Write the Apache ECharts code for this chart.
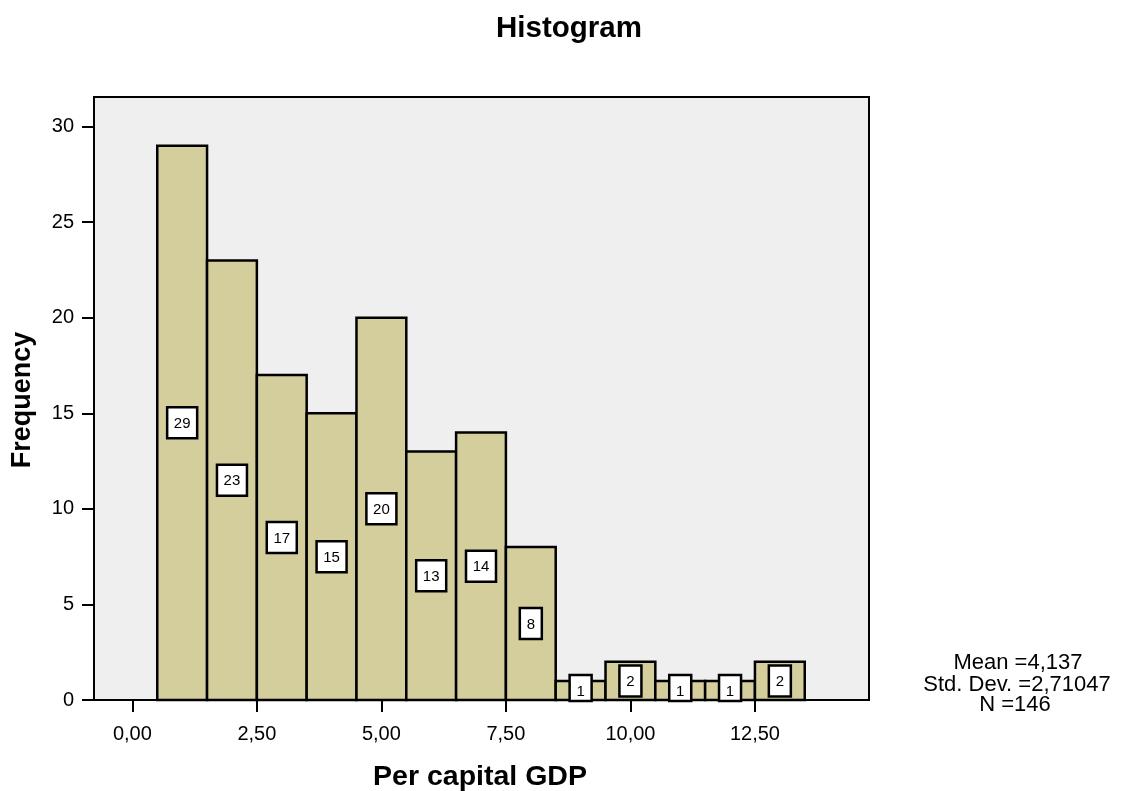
<!DOCTYPE html>
<html>
<head>
<meta charset="utf-8">
<script src="https://cdn.jsdelivr.net/npm/echarts@6/dist/echarts.min.js"></script>
<style>
html,body{margin:0;padding:0;background:#fff;}
#chart{width:1121px;height:791px;}
</style>
</head>
<body>
<div id="chart"></div>
<script>
// ---- data ----
const binCenters = [1, 2, 3, 4, 5, 6, 7, 8, 9, 10, 11, 12, 13];
const counts = [29, 23, 17, 15, 20, 13, 14, 8, 1, 2, 1, 1, 2];
const binWidth = 1;
const xTickValues = [0, 2.5, 5, 7.5, 10, 12.5];
const xTickLabels = ['0,00', '2,50', '5,00', '7,50', '10,00', '12,50'];
const yTickValues = [0, 5, 10, 15, 20, 25, 30];
const statsLines = ['Mean =4,137', 'Std. Dev. =2,71047', 'N =146'];
const titleText = 'Histogram';
const xTitle = 'Per capital GDP';
const yTitle = 'Frequency';

const FONT = "'Liberation Sans', Arial, sans-serif";
const chart = echarts.init(document.getElementById('chart'), null, {renderer: 'canvas'});

const seriesData = binCenters.map((c, i) => [c, counts[i]]);

function renderItem(params, api) {
  const x = api.value(0), v = api.value(1);
  const p0 = api.coord([x - binWidth / 2, 0]);
  const p1 = api.coord([x + binWidth / 2, v]);
  const c = api.coord([x, v / 2]);
  const label = String(v);
  const bw = label.length > 1 ? 30 : 22;
  const bh = 31;
  const top = c[1] - bh / 2;
  const bottom = Math.min(c[1] + bh / 2, p0[1] + 1);
  return {
    type: 'group',
    children: [
      {
        type: 'rect',
        shape: {x: p0[0], y: p1[1], width: p1[0] - p0[0], height: p0[1] - p1[1]},
        style: {fill: '#D3CE9B', stroke: '#000', lineWidth: 2.5}
      },
      {
        type: 'rect',
        shape: {x: c[0] - bw / 2, y: top, width: bw, height: bottom - top},
        style: {fill: '#fff', stroke: '#000', lineWidth: 2.5}
      },
      {
        type: 'text',
        x: c[0], y: c[1] + 1,
        style: {text: label, fill: '#000', font: '15px ' + FONT, align: 'center', verticalAlign: 'middle'}
      }
    ]
  };
}

const option = {
  animation: false,
  backgroundColor: '#fff',
  grid: {
    left: 94, top: 97, width: 775, height: 603,
    show: true, backgroundColor: '#EFEFEF', borderColor: '#000', borderWidth: 2
  },
  xAxis: {
    type: 'value', min: -0.77, max: 14.79,
    axisLine: {show: true, onZero: false, lineStyle: {color: '#000', width: 2}},
    axisTick: {show: true, length: 12, customValues: xTickValues, lineStyle: {color: '#000', width: 2}},
    axisLabel: {
      customValues: xTickValues, margin: 24, color: '#000', fontSize: 20, fontFamily: FONT,
      formatter: function (val) {
        const i = xTickValues.indexOf(val);
        return i >= 0 ? xTickLabels[i] : '';
      }
    },
    splitLine: {show: false}
  },
  yAxis: {
    type: 'value', min: 0, max: 31.55,
    axisLine: {show: true, onZero: false, lineStyle: {color: '#000', width: 2}},
    axisTick: {show: true, length: 12, customValues: yTickValues, lineStyle: {color: '#000', width: 2}},
    axisLabel: {customValues: yTickValues, margin: 20, color: '#000', fontSize: 20, fontFamily: FONT},
    splitLine: {show: false}
  },
  series: [{
    type: 'custom',
    renderItem: renderItem,
    data: seriesData,
    encode: {x: 0, y: 1}
  }],
  graphic: [
    {type: 'text', x: 569, y: 29, style: {text: titleText, font: 'bold 29.5px ' + FONT, fill: '#000', align: 'center', verticalAlign: 'middle'}},
    {type: 'text', x: 480, y: 777, style: {text: xTitle, font: 'bold 28.5px ' + FONT, fill: '#000', align: 'center', verticalAlign: 'middle'}},
    {type: 'text', x: 23, y: 400, rotation: Math.PI / 2, style: {text: yTitle, font: 'bold 27px ' + FONT, fill: '#000', align: 'center', verticalAlign: 'middle'}},
    {type: 'text', x: 1018, y: 663, style: {text: statsLines[0], font: '22px ' + FONT, fill: '#000', align: 'center', verticalAlign: 'middle'}},
    {type: 'text', x: 1017, y: 685, style: {text: statsLines[1], font: '22px ' + FONT, fill: '#000', align: 'center', verticalAlign: 'middle'}},
    {type: 'text', x: 1015, y: 705, style: {text: statsLines[2], font: '22px ' + FONT, fill: '#000', align: 'center', verticalAlign: 'middle'}}
  ]
};
chart.setOption(option);
</script>
</body>
</html>
